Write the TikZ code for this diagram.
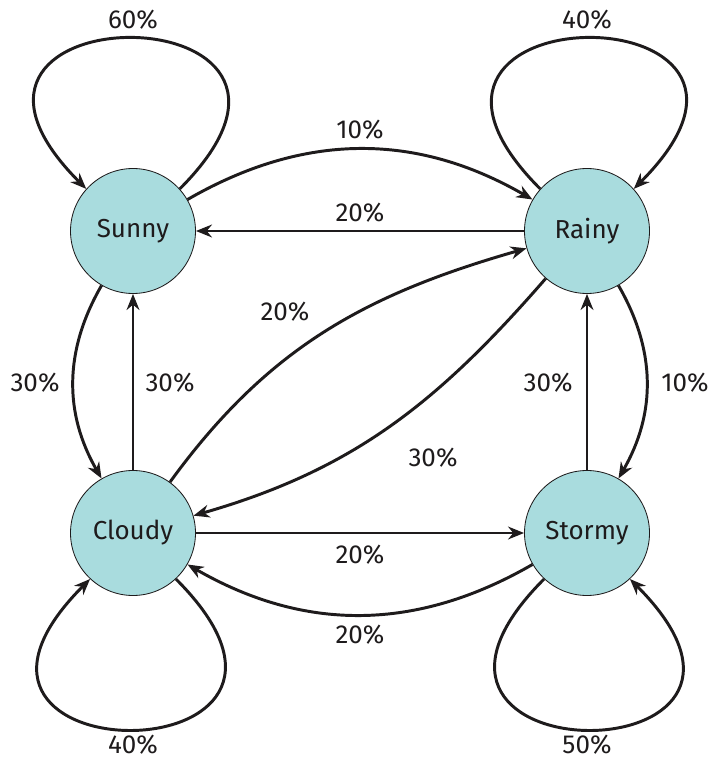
\documentclass[tikz,border=0pt]{standalone}
\usepackage{fontspec}
\setmainfont{Fira Sans}
\usetikzlibrary{arrows.meta}
\definecolor{stateteal}{HTML}{A9DCDE}
\definecolor{inkgray}{HTML}{1E1B1C}
\tikzset{
  state/.style={circle,draw=inkgray,line width=0.6pt,fill=stateteal,minimum size=3.125cm,inner sep=0pt,text=inkgray},
  trans/.style={draw=inkgray,line width=2.1pt,-{Stealth[length=4mm,width=3.2mm]}},
  prob/.style={text=inkgray}
}
\begin{document}
\begin{tikzpicture}[font=\fontsize{18.5}{22}\selectfont]
  \useasboundingbox (-3.325,5.775) rectangle (14.525,-13.2);
  \node[state] (sunny) at (0,0) {Sunny};
  \node[state] (rainy) at (11.35,0) {Rainy};
  \node[state] (cloudy) at (0,-7.55) {Cloudy};
  \node[state] (stormy) at (11.35,-7.55) {Stormy};
  % self loops
  \foreach \s/\a/\b/\c/\d in {sunny/42/138/45/135, rainy/138/42/135/45, cloudy/313/227/-45/-135, stormy/227/313/-135/-45} {
    \draw[trans] (\s.\a) .. controls +(\c:7.1) and +(\d:7.1) .. (\s.\b);
  }
  % transitions between states
  \draw[trans] (sunny) to[bend left=30] (rainy);
  \draw[trans] (rainy) -- (sunny);
  \draw[trans] (sunny) to[bend right=30] (cloudy);
  \draw[trans] (cloudy) -- (sunny);
  \draw[trans] (cloudy) to[out=54,in=196] (rainy);
  \draw[trans] (rainy) to[out=229,in=16] (cloudy);
  \draw[trans] (rainy) to[bend left=30] (stormy);
  \draw[trans] (stormy) -- (rainy);
  \draw[trans] (cloudy) -- (stormy);
  \draw[trans] (stormy) to[bend left=30] (cloudy);
  % probabilities
  \node[prob] (pss) at (0,5.275) {60\%};
  \node[prob] (prr) at (11.35,5.275) {40\%};
  \node[prob] (pcc) at (0,-12.85) {40\%};
  \node[prob] (ptt) at (11.35,-12.85) {50\%};
  \node[prob] (psr) at (5.675,2.525) {10\%};
  \node[prob] (prs) at (5.675,0.45) {20\%};
  \node[prob] (psc) at (-2.45,-3.8) {30\%};
  \node[prob] (pcs) at (0.925,-3.8) {30\%};
  \node[prob] (pcr) at (3.8,-2.025) {20\%};
  \node[prob] (prc) at (7.5,-5.675) {30\%};
  \node[prob] (ptr) at (10.375,-3.8) {30\%};
  \node[prob] (prt) at (13.8,-3.8) {10\%};
  \node[prob] (pct) at (5.675,-8.1) {20\%};
  \node[prob] (ptc) at (5.675,-10.1) {20\%};
\end{tikzpicture}
\end{document}
